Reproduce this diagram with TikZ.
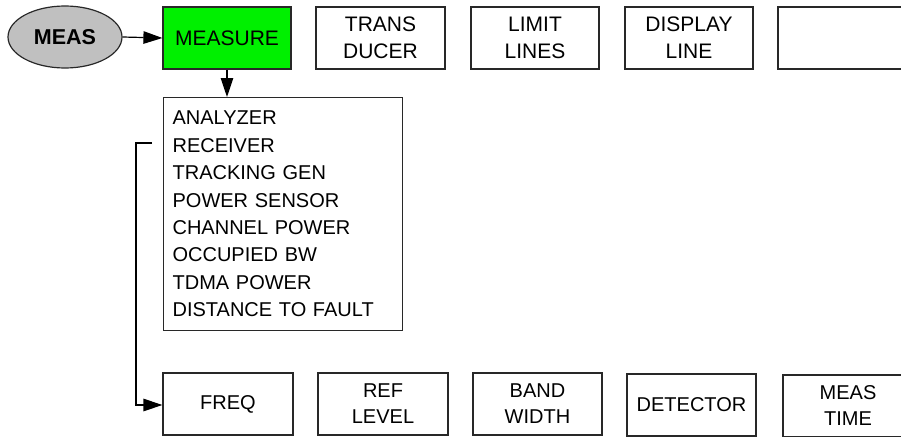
\documentclass[tikz,border=0pt]{standalone}
\usepackage{fontspec}
\setmainfont{Liberation Sans}
\usetikzlibrary{arrows.meta,positioning,calc,shapes.geometric}
\definecolor{boxgreen}{RGB}{0,240,0}
\definecolor{ellgrey}{RGB}{192,192,192}
\definecolor{linec}{RGB}{40,40,40}
\tikzset{
  key/.style={draw=linec, line width=1.2pt, rectangle, inner sep=0pt,
    minimum width=129pt, minimum height=62pt, align=center,
    font=\fontsize{21}{27}\selectfont},
  keyb/.style={key, font=\fontsize{20}{26}\selectfont},
  conn/.style={draw=black, line width=1.2pt, -{Triangle[length=19pt,width=12.5pt]}},
}
\begin{document}
\begin{tikzpicture}[x=1pt,y=-1pt]
\useasboundingbox (0,0) rectangle (901,436);
\clip (0,0) rectangle (901,436);
% top row
\node[draw=linec, line width=1.2pt, ellipse, fill=ellgrey, minimum width=114pt, minimum height=62pt, inner sep=0pt,
  font=\fontsize{21.5}{27}\selectfont\bfseries] (meas) at (65,37) {MEAS};
\node[key, fill=boxgreen, minimum width=128pt] (measure) at (227,38) {MEASURE};
\node[key] (trans) at (380.5,38) {TRANS\\DUCER};
\node[key, minimum width=128pt] (limit) at (535,38) {LIMIT\\LINES};
\node[key, minimum width=128pt] (disp) at (689,38) {DISPLAY\\LINE};
\node[key, minimum width=130pt] (empty) at (843,38) {};
% list
\node[draw=linec, line width=1.2pt, anchor=north west, inner xsep=9pt, inner ysep=12.7pt,
  text width=221pt, minimum height=233pt, align=left,
  font=\fontsize{20}{27.4}\selectfont] (list) at (163,97)
  {ANALYZER\\RECEIVER\\TRACKING GEN\\POWER SENSOR\\CHANNEL POWER\\OCCUPIED BW\\TDMA POWER\\DISTANCE TO FAULT};
% bottom row
\node[keyb, minimum width=130pt] (freq) at (228,404) {FREQ};
\node[keyb, minimum width=130pt] (ref) at (383,404) {REF\\LEVEL};
\node[keyb] (band) at (537.5,404) {BAND\\WIDTH};
\node[keyb] (det) at (691.5,405) {DETECTOR};
\node[keyb, minimum width=130pt] (mtime) at (848,406) {MEAS\\TIME};
% connectors
\draw[conn] (meas.east) -- (measure.west);
\draw[conn] (measure.south) -- (measure.south |- list.north);
\coordinate (c0) at (152,143);
\coordinate (c1) at (136,405);
\draw[conn] (c0) -| (c1) -- (c1 -| freq.west);
\end{tikzpicture}
\end{document}
